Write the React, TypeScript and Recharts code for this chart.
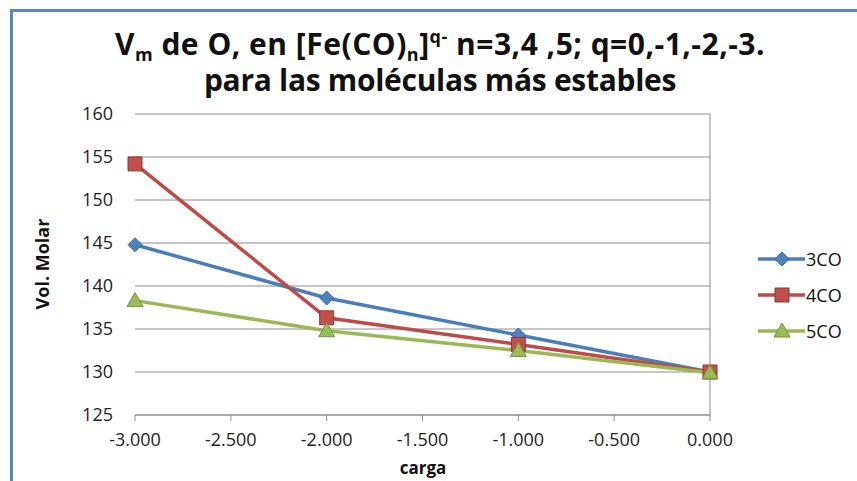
import React from 'react';
import { LineChart, Line, XAxis, YAxis, CartesianGrid, ReferenceLine } from 'recharts';

const cargas = [-3, -2, -1, 0];
const serie3CO = [144.8, 138.6, 134.3, 130.0];
const serie4CO = [154.2, 136.3, 133.2, 130.0];
const serie5CO = [138.3, 134.8, 132.5, 129.9];
const xTicks = [-3, -2.5, -2, -1.5, -1, -0.5, 0];
const yTicks = [125, 130, 135, 140, 145, 150, 155, 160];
const seriesNames = ['3CO', '4CO', '5CO'];

const lineColors = ['#4A7EBB', '#BE4B48', '#98B954'];
const fillColors = ['#4F81BD', '#C0504D', '#9BBB59'];
const strokeColors = ['#3A679E', '#8E3A37', '#769244'];
const shapes = ['diamond', 'square', 'triangle'];

const data = cargas.map((c, i) => ({
  carga: c,
  s3: serie3CO[i],
  s4: serie4CO[i],
  s5: serie5CO[i],
}));

const FONT = '"Open Sans", sans-serif';

function markerPath(shape: string, cx: number, cy: number) {
  if (shape === 'diamond') return `M${cx},${cy - 7}L${cx + 7},${cy}L${cx},${cy + 7}L${cx - 7},${cy}Z`;
  if (shape === 'square') return `M${cx - 7},${cy - 7}L${cx + 7},${cy - 7}L${cx + 7},${cy + 7}L${cx - 7},${cy + 7}Z`;
  return `M${cx},${cy - 8}L${cx + 8},${cy + 6}L${cx - 8},${cy + 6}Z`;
}

const makeDot = (idx: number) => (props: any) => {
  const { cx, cy, index } = props;
  if (cx == null || cy == null) return <g key={`d${idx}-${index}`} />;
  return (
    <path
      key={`d${idx}-${index}`}
      d={markerPath(shapes[idx], cx, cy)}
      fill={fillColors[idx]}
      stroke={strokeColors[idx]}
      strokeWidth={1}
    />
  );
};

const subStyle: React.CSSProperties = { fontSize: 18, position: 'relative', top: 6, verticalAlign: 'baseline', lineHeight: 0 };
const supStyle: React.CSSProperties = { fontSize: 18, position: 'relative', top: -12, verticalAlign: 'baseline', lineHeight: 0 };

export default function App() {
  return (
    <div style={{ position: 'absolute', left: 0, top: 0, width: 857, height: 481, background: '#fff', overflow: 'hidden' }}>
      <div
        style={{
          position: 'absolute',
          left: 10,
          top: 9,
          width: 900,
          height: 600,
          borderLeft: '3px solid #5B86C6',
          borderTop: '3px solid #5B86C6',
        }}
      />
      <div
        style={{
          position: 'absolute',
          left: 0,
          top: 26,
          width: 880,
          textAlign: 'center',
          fontFamily: FONT,
          fontWeight: 700,
          fontSize: 30,
          color: '#111',
        }}
      >
        <div style={{ height: 36, lineHeight: '36px', letterSpacing: 0.5, whiteSpace: 'nowrap' }}>
          V<span style={subStyle}>m</span> de O, en [Fe(CO)<span style={subStyle}>n</span>]
          <span style={supStyle}>q-</span> n=3,4 ,5; q=0,-1,-2,-3.
        </div>
        <div style={{ height: 36, lineHeight: '36px', letterSpacing: -0.3, whiteSpace: 'nowrap' }}>
          para las moléculas más estables
        </div>
      </div>
      <div
        style={{
          position: 'absolute',
          left: 42,
          top: 264,
          transform: 'translate(-50%, -50%) rotate(-90deg)',
          fontFamily: FONT,
          fontWeight: 700,
          fontSize: 18,
          whiteSpace: 'nowrap',
          color: '#111',
        }}
      >
        Vol. Molar
      </div>
      <div
        style={{
          position: 'absolute',
          left: 423,
          top: 467,
          transform: 'translate(-50%, -50%)',
          fontFamily: FONT,
          fontWeight: 700,
          fontSize: 17,
          whiteSpace: 'nowrap',
          color: '#111',
        }}
      >
        carga
      </div>
      <div style={{ position: 'absolute', left: 756, top: 241, fontFamily: FONT, fontSize: 18, color: '#111' }}>
        {seriesNames.map((n, i) => (
          <div key={n} style={{ display: 'flex', alignItems: 'center', height: 36 }}>
            <svg width={50} height={20} style={{ display: 'block' }}>
              <line x1={2} y1={10} x2={49} y2={10} stroke={lineColors[i]} strokeWidth={3.5} />
              <path d={markerPath(shapes[i], 26, 10)} fill={fillColors[i]} stroke={strokeColors[i]} strokeWidth={1} />
            </svg>
            <span>{n}</span>
          </div>
        ))}
      </div>
      <LineChart
        width={857}
        height={481}
        data={data}
        margin={{ top: 114, right: 147, bottom: 36, left: 75 }}
        style={{ position: 'absolute', left: 0, top: 0 }}
      >
        <CartesianGrid vertical={false} stroke="#8C8C8C" strokeWidth={1} />
        <XAxis
          dataKey="carga"
          type="number"
          domain={[-3, 0]}
          ticks={xTicks}
          tickFormatter={(v: number) => v.toFixed(3)}
          height={30}
          stroke="#8C8C8C"
          tickSize={6}
          tickMargin={12}
          tick={{ fill: '#222', fontSize: 18, fontFamily: FONT }}
        />
        <YAxis
          type="number"
          domain={[125, 160]}
          ticks={yTicks}
          width={60}
          axisLine={false}
          tickLine={false}
          tickSize={20}
          tickMargin={2}
          tick={{ fill: '#222', fontSize: 18, fontFamily: FONT }}
        />
        <ReferenceLine x={0} stroke="#8C8C8C" strokeWidth={1} />
        <Line dataKey="s3" name={seriesNames[0]} stroke={lineColors[0]} strokeWidth={3.5} dot={makeDot(0)} isAnimationActive={false} />
        <Line dataKey="s4" name={seriesNames[1]} stroke={lineColors[1]} strokeWidth={3.5} dot={makeDot(1)} isAnimationActive={false} />
        <Line dataKey="s5" name={seriesNames[2]} stroke={lineColors[2]} strokeWidth={3.5} dot={makeDot(2)} isAnimationActive={false} />
      </LineChart>
    </div>
  );
}
